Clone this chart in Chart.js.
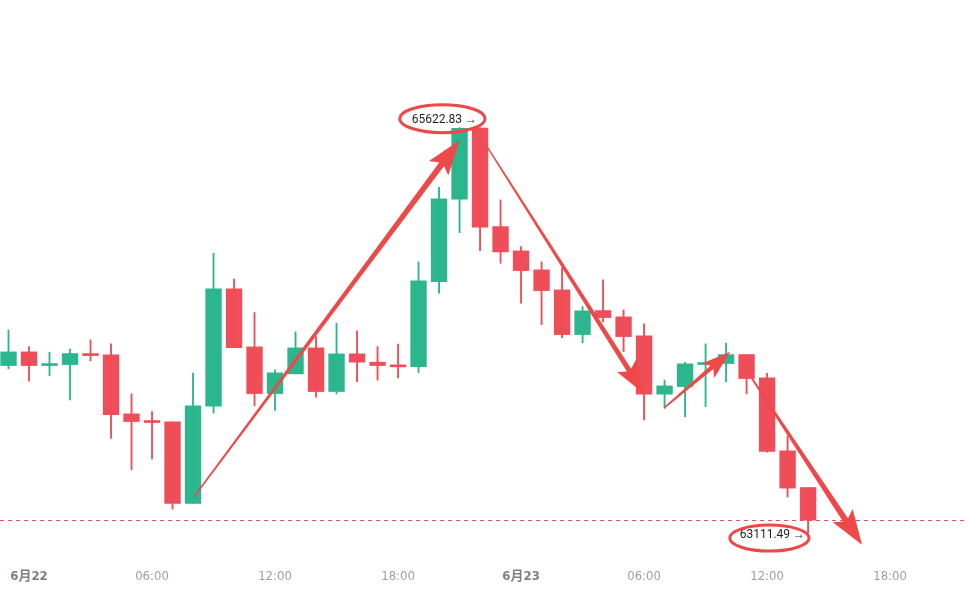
<!DOCTYPE html>
<html>
<head>
<meta charset="utf-8">
<script src="https://cdn.jsdelivr.net/npm/chart.js@4.4.1/dist/chart.umd.min.js"></script>
<style>
  html, body { margin: 0; padding: 0; background: #fff; }
  #wrap { width: 968px; height: 595px; position: relative; }
</style>
</head>
<body>
<div id="wrap"><canvas id="kline"></canvas></div>
<script>
// hourly candles, hour 0 = 6月22 00:00
const hours = [-1, 0, 1, 2, 3, 4, 5, 6, 7, 8, 9, 10, 11, 12, 13, 14, 15, 16, 17, 18, 19,
  20, 21, 22, 23, 24, 25, 26, 27, 28, 29, 30, 31, 32, 33, 34, 35, 36, 37, 38]
const opens = [64149.2, 64234.0, 64149.2, 64155.4, 64223.5, 64215.4, 63850.1, 63808.7, 63800.6, 63294.7,
  63897.8, 64624.1, 64265.0, 63975.8, 64097.8, 64258.8, 63988.2, 64221.6, 64170.2, 64153.5,
  64143.0, 64669.3, 65179.5, 65620.5, 65009.9, 64859.4, 64741.7, 64617.9, 64341.1, 64489.7,
  64450.7, 64333.1, 63972.1, 64019.2, 64155.4, 64161.6, 64217.3, 64073.0, 63621.0, 63393.8]
const highs = [64370.2, 64266.8, 64232.2, 64250.7, 64308.3, 64283.6, 63974.0, 63864.4, 63800.6, 64102.1,
  64845.1, 64684.2, 64477.4, 64122.6, 64357.9, 64328.7, 64411.7, 64364.1, 64266.8, 64281.7,
  64791.3, 65253.8, 65622.83, 65622.0, 65175.2, 64886.0, 64791.3, 64752.3, 64514.5, 64679.8,
  64494.1, 64407.4, 64058.8, 64169.0, 64283.6, 64287.9, 64217.3, 64102.1, 63713.9, 63393.8]
const lows = [64128.8, 64052.6, 64087.3, 63936.8, 64178.3, 63697.2, 63505.3, 63571.5, 63260.1, 63294.7,
  63854.5, 64260.7, 63899.7, 63870.6, 64097.8, 63953.5, 63974.0, 64050.1, 64058.8, 64073.0,
  64105.9, 64597.5, 64972.7, 64861.2, 64783.2, 64535.6, 64403.1, 64322.6, 64289.8, 64419.8,
  64235.9, 63813.0, 63884.2, 63831.6, 63895.3, 64048.3, 63974.0, 63613.0, 63334.4, 63111.49]
const closes = [64234.0, 64149.2, 64161.6, 64223.5, 64211.1, 63845.8, 63802.5, 63796.3, 63294.7, 63899.7,
  64624.1, 64260.7, 63975.8, 64104.0, 64258.8, 63988.2, 64221.6, 64170.2, 64149.2, 64141.2,
  64673.6, 65181.4, 65617.9, 65006.1, 64853.2, 64737.4, 64613.6, 64341.1, 64487.9, 64446.4,
  64328.7, 63972.1, 64023.5, 64159.7, 64167.7, 64217.3, 64068.7, 63616.7, 63390.1, 63191.9]

const tickHours = [0, 6, 12, 18, 24, 30, 36, 42]
const tickLabels = ['6月22', '06:00', '12:00', '18:00', '6月23', '06:00', '12:00', '18:00']
const dayTicks = ['6月22', '6月23']

const highMark = 65622.83
const highHour = 22
const lowMark = 63111.49
const lowHour = 38
const lastPrice = 63191.9

// hand drawn arrows: [fromHour, fromPrice, toHour, toPrice]
const arrows = [
  [8.06, 63338, 21.0, 65545],
  [22.38, 65497, 30.0, 63974],
  [30.98, 63887, 34.2, 64234],
  [35.27, 64067, 40.63, 63039]
]

const UP = '#2bb68e'
const DOWN = '#ef4d57'
const MARK = '#ee4848'

const candleColors = opens.map((o, i) => closes[i] >= o ? UP : DOWN)
const wickData = hours.map((h, i) => ({ x: h, y: [lows[i], highs[i]] }))
const bodyData = hours.map((h, i) => ({ x: h, y: [Math.min(opens[i], closes[i]), Math.max(opens[i], closes[i])] }))

function drawArrow (ctx, x0, y0, x1, y1, tailW, neckW, headW, headLen) {
  const len = Math.hypot(x1 - x0, y1 - y0)
  const ux = (x1 - x0) / len
  const uy = (y1 - y0) / len
  const nx = -uy
  const ny = ux
  const bx = x1 - ux * headLen
  const by = y1 - uy * headLen
  const barb = 5
  ctx.beginPath()
  ctx.moveTo(x0 + nx * tailW / 2, y0 + ny * tailW / 2)
  ctx.lineTo(bx + nx * neckW / 2, by + ny * neckW / 2)
  ctx.lineTo(bx - ux * barb + nx * headW / 2, by - uy * barb + ny * headW / 2)
  ctx.lineTo(x1, y1)
  ctx.lineTo(bx - ux * barb - nx * headW / 2, by - uy * barb - ny * headW / 2)
  ctx.lineTo(bx - nx * neckW / 2, by - ny * neckW / 2)
  ctx.lineTo(x0 - nx * tailW / 2, y0 - ny * tailW / 2)
  ctx.closePath()
  ctx.fill()
}

const markup = {
  id: 'markup',
  beforeDatasetsDraw (chart) {
    const { ctx, chartArea, scales } = chart
    const y = Math.round(scales.y.getPixelForValue(lastPrice)) + 0.5
    ctx.save()
    ctx.strokeStyle = '#e0506a'
    ctx.lineWidth = 1
    ctx.setLineDash([4, 4])
    ctx.beginPath()
    ctx.moveTo(chartArea.left, y)
    ctx.lineTo(chartArea.right, y)
    ctx.stroke()
    ctx.restore()
  },
  afterDatasetsDraw (chart) {
    const { ctx, scales } = chart
    const xs = scales.x
    const ys = scales.y
    ctx.save()

    // arrows
    ctx.fillStyle = MARK
    const sizes = [[1.4, 6, 24, 30], [1.4, 5, 22, 28], [1.4, 4.5, 19, 24], [1.8, 6, 24, 30]]
    arrows.forEach((a, i) => {
      const s = sizes[i]
      drawArrow(ctx, xs.getPixelForValue(a[0]), ys.getPixelForValue(a[1]),
        xs.getPixelForValue(a[2]), ys.getPixelForValue(a[3]), s[0], s[1], s[2], s[3])
    })

    // max / min labels
    ctx.font = '12px Roboto, "Liberation Sans", Arial, sans-serif'
    ctx.fillStyle = '#1d1f24'
    ctx.textBaseline = 'middle'
    ctx.textAlign = 'right'
    ctx.strokeStyle = MARK
    ctx.lineWidth = 3

    const hiText = highMark.toFixed(2) + ' →'
    const hx = xs.getPixelForValue(highHour) - 3
    const hy = ys.getPixelForValue(highMark) - 8
    ctx.fillText(hiText, hx, hy)
    const hw = ctx.measureText(hiText).width
    ctx.beginPath()
    ctx.ellipse(hx - hw / 2 - 2, hy - 1, hw / 2 + 10, 14, 0, 0, Math.PI * 2)
    ctx.stroke()

    const loText = lowMark.toFixed(2) + ' →'
    const lx = xs.getPixelForValue(lowHour) - 3
    const ly = ys.getPixelForValue(lowMark) + 2
    ctx.fillText(loText, lx, ly)
    const lw = ctx.measureText(loText).width
    ctx.beginPath()
    ctx.ellipse(lx - lw / 2 - 3, ly + 3, lw / 2 + 7, 13, 0, 0, Math.PI * 2)
    ctx.stroke()

    ctx.restore()
  }
}

new Chart(document.getElementById('kline'), {
  type: 'bar',
  data: {
    datasets: [
      {
        label: 'wick',
        data: wickData,
        backgroundColor: candleColors,
        barThickness: 1.2,
        grouped: false,
        borderWidth: 0
      },
      {
        label: 'body',
        data: bodyData,
        backgroundColor: candleColors,
        barThickness: 15.7,
        grouped: false,
        minBarLength: 2,
        borderWidth: 0
      }
    ]
  },
  options: {
    responsive: true,
    maintainAspectRatio: false,
    animation: false,
    layout: { padding: 0 },
    plugins: {
      legend: { display: false },
      tooltip: { enabled: false }
    },
    scales: {
      x: {
        type: 'linear',
        offset: false,
        min: -1.415,
        max: 45.8,
        grid: { display: false },
        border: { display: false },
        afterBuildTicks: (axis) => {
          axis.ticks = tickHours.map(v => ({ value: v }))
        },
        ticks: {
          padding: 10.2,
          maxRotation: 0,
          autoSkip: false,
          callback: (v) => tickLabels[tickHours.indexOf(v)],
          color: (c) => dayTicks.includes(tickLabels[c.index]) ? '#7c7f88' : '#9b9ea6',
          font: (c) => ({
            family: '"Liberation Sans Narrow", "DejaVu Sans Condensed", Roboto, "Noto Sans CJK SC", sans-serif',
            size: 13,
            weight: dayTicks.includes(tickLabels[c.index]) ? 'bold' : 'normal'
          })
        }
      },
      y: {
        display: false,
        min: 63000.6,
        max: 66413.5
      }
    }
  },
  plugins: [markup]
})
</script>
</body>
</html>
